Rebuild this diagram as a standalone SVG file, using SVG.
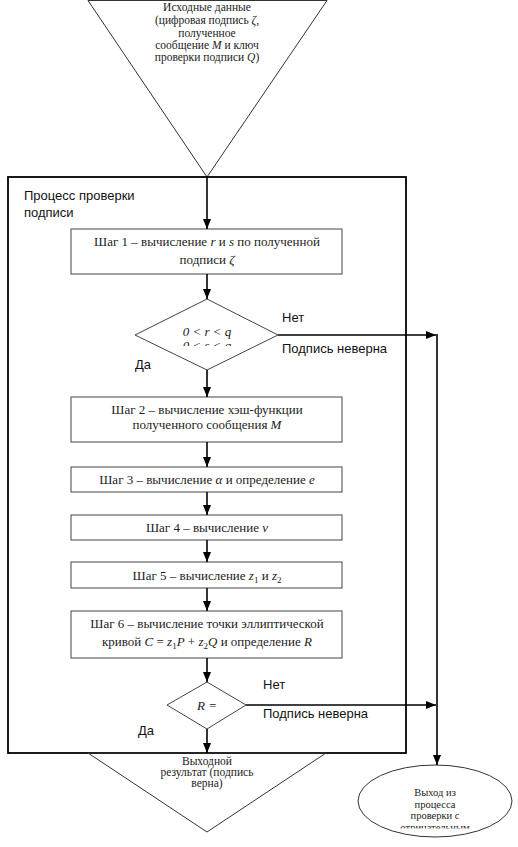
<svg xmlns="http://www.w3.org/2000/svg" width="518" height="847" viewBox="0 0 518 847">
<style>
.sh{fill:none;stroke:#333;stroke-width:1}
.box{fill:#fff;stroke:#444;stroke-width:1}
.frame{fill:none;stroke:#000;stroke-width:1.8}
.ln{fill:none;stroke:#000;stroke-width:1.6}
.t{font-family:"Liberation Serif","Times New Roman",serif;font-size:13px;fill:#222;text-anchor:middle}
.ts{font-family:"Liberation Serif","Times New Roman",serif;font-size:11.5px;fill:#222;text-anchor:middle}
.te{font-family:"Liberation Serif","Times New Roman",serif;font-size:10.5px;fill:#222;text-anchor:middle}
.s{font-family:"Liberation Sans",Arial,sans-serif;font-size:13px;fill:#111}
.m{font-style:italic}
</style>
<defs>
<marker id="ah" viewBox="0 0 10 8" refX="10" refY="4" markerWidth="10" markerHeight="8" markerUnits="userSpaceOnUse" orient="auto">
<path d="M0,0 L10,4 L0,8 Z" fill="#000"/>
</marker>
<clipPath id="c1"><rect x="130" y="290" width="160" height="56"/></clipPath>
<clipPath id="c2"><rect x="350" y="760" width="170" height="68.5"/></clipPath>
</defs>

<g id="input">
<polygon class="sh" points="88,0.5 327,0.5 207,177"/>
<text class="ts" x="207" y="11">Исходные данные</text>
<text class="ts" x="207" y="24">(цифровая подпись <tspan class="m">ζ</tspan>,</text>
<text class="ts" x="207" y="37">полученное</text>
<text class="ts" x="207" y="49">сообщение <tspan class="m">M</tspan> и ключ</text>
<text class="ts" x="207" y="61">проверки подписи <tspan class="m">Q</tspan>)</text>
</g>

<g id="process">
<rect class="frame" x="8" y="177" width="398" height="576"/>
<text class="s" x="24" y="200">Процесс проверки</text>
<text class="s" x="24" y="217">подписи</text>
</g>

<g id="step1">
<rect class="box" x="71" y="229" width="271" height="45"/>
<text class="t" x="207" y="246">Шаг 1 – вычисление <tspan class="m">r</tspan> и <tspan class="m">s</tspan> по полученной</text>
<text class="t" x="207" y="264">подписи <tspan class="m">ζ</tspan></text>
</g>

<g id="check1">
<polygon class="box" points="207,299 278,335 207,370 135,335"/>
<text class="t m" x="207" y="336">0 &lt; r &lt; q</text>
<text class="t m" x="207" y="350" clip-path="url(#c1)">0 &lt; s &lt; q</text>
</g>

<g id="step2">
<rect class="box" x="71" y="397" width="271" height="45"/>
<text class="t" x="207" y="414">Шаг 2 – вычисление хэш-функции</text>
<text class="t" x="207" y="429">полученного сообщения <tspan class="m">M</tspan></text>
</g>

<g id="step3">
<rect class="box" x="71" y="467" width="271" height="25"/>
<text class="t" x="207" y="484">Шаг 3 – вычисление <tspan class="m">α</tspan> и определение  <tspan class="m">e</tspan></text>
</g>

<g id="step4">
<rect class="box" x="71" y="515" width="271" height="25"/>
<text class="t" x="207" y="532">Шаг 4 – вычисление  <tspan class="m">v</tspan></text>
</g>

<g id="step5">
<rect class="box" x="71" y="562" width="271" height="26"/>
<text class="t" x="207" y="580">Шаг 5 – вычисление  <tspan class="m">z</tspan><tspan font-size="9" dy="3">1</tspan><tspan dy="-3"> и </tspan><tspan class="m">z</tspan><tspan font-size="9" dy="3">2</tspan></text>
</g>

<g id="step6">
<rect class="box" x="71" y="611" width="271" height="47"/>
<text class="t" x="207" y="628">Шаг 6 – вычисление точки эллиптической</text>
<text class="t" x="207" y="646">кривой <tspan class="m">C</tspan> = <tspan class="m">z</tspan><tspan font-size="9" dy="3">1</tspan><tspan class="m" dy="-3">P</tspan> + <tspan class="m">z</tspan><tspan font-size="9" dy="3">2</tspan><tspan class="m" dy="-3">Q</tspan>  и определение <tspan class="m">R</tspan></text>
</g>

<g id="check2">
<polygon class="box" points="207,682 246,705 207,729 167,705"/>
<text class="t m" x="207" y="710">R =</text>
</g>

<g id="output">
<polygon class="sh" points="88,753 326,753 207,832"/>
<text class="ts" x="207" y="765">Выходной</text>
<text class="ts" x="207" y="776">результат (подпись</text>
<text class="ts" x="207" y="787">верна)</text>
</g>

<g id="reject">
<ellipse class="sh" cx="435" cy="801" rx="77" ry="36"/>
<text class="te" x="435" y="796">Выход из</text>
<text class="te" x="435" y="807.5">процесса</text>
<text class="te" x="435" y="819">проверки с</text>
<text class="te" x="435" y="830.5" clip-path="url(#c2)">отрицательным</text>
</g>

<g id="connectors">
<line class="ln" x1="207" y1="177" x2="207" y2="229" marker-end="url(#ah)"/>
<line class="ln" x1="207" y1="274" x2="207" y2="299" marker-end="url(#ah)"/>
<line class="ln" x1="207" y1="370" x2="207" y2="397" marker-end="url(#ah)"/>
<line class="ln" x1="207" y1="442" x2="207" y2="467" marker-end="url(#ah)"/>
<line class="ln" x1="207" y1="492" x2="207" y2="515" marker-end="url(#ah)"/>
<line class="ln" x1="207" y1="540" x2="207" y2="562" marker-end="url(#ah)"/>
<line class="ln" x1="207" y1="588" x2="207" y2="611" marker-end="url(#ah)"/>
<line class="ln" x1="207" y1="658" x2="207" y2="682" marker-end="url(#ah)"/>
<line class="ln" x1="207" y1="729" x2="207" y2="753" marker-end="url(#ah)"/>
<line class="ln" x1="278" y1="335" x2="436" y2="335" marker-end="url(#ah)"/>
<line class="ln" x1="246" y1="705" x2="436" y2="705" marker-end="url(#ah)"/>
<line class="ln" x1="437" y1="334" x2="437" y2="765" marker-end="url(#ah)"/>
<text class="s" x="282" y="322">Нет</text>
<text class="s" x="282" y="353">Подпись неверна</text>
<text class="s" x="135" y="369">Да</text>
<text class="s" x="263" y="689">Нет</text>
<text class="s" x="263" y="718">Подпись неверна</text>
<text class="s" x="138" y="735">Да</text>
</g>
</svg>
